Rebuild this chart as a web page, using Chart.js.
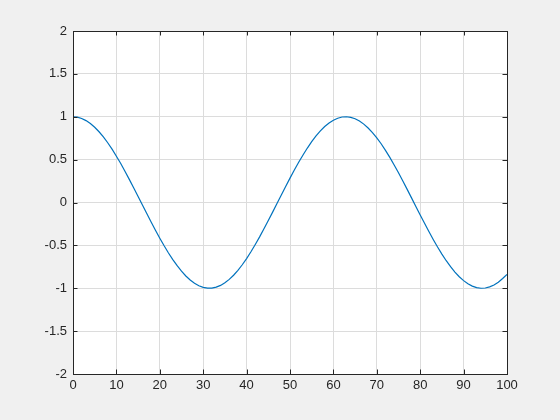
<!DOCTYPE html>
<html>
<head>
<meta charset="utf-8">
<script src="https://cdn.jsdelivr.net/npm/chart.js@4"></script>
<style>
  html, body { margin: 0; padding: 0; background: #f0f0f0; }
  #wrap { width: 560px; height: 420px; }
</style>
</head>
<body>
<div id="wrap"><canvas id="c" width="560" height="420"></canvas></div>
<script>
// values, x = 0..100 step 1
const xs = [];
for (let i = 0; i <= 100; i++) xs.push(i);
const ys = [
  1.000, 0.995, 0.980, 0.955, 0.921, 0.878, 0.825, 0.765, 0.697, 0.622,
  0.540, 0.454, 0.362, 0.267, 0.170, 0.071, -0.029, -0.129, -0.227, -0.323,
  -0.416, -0.505, -0.589, -0.666, -0.737, -0.801, -0.857, -0.904, -0.942, -0.971,
  -0.990, -0.999, -0.998, -0.987, -0.967, -0.936, -0.897, -0.848, -0.791, -0.726,
  -0.654, -0.575, -0.490, -0.401, -0.307, -0.211, -0.112, -0.012, 0.087, 0.187,
  0.284, 0.378, 0.469, 0.554, 0.635, 0.709, 0.776, 0.835, 0.886, 0.927,
  0.960, 0.983, 0.997, 1.000, 0.993, 0.977, 0.950, 0.914, 0.869, 0.816,
  0.754, 0.685, 0.608, 0.526, 0.438, 0.347, 0.251, 0.153, 0.054, -0.046,
  -0.146, -0.243, -0.339, -0.431, -0.519, -0.602, -0.679, -0.748, -0.811, -0.866,
  -0.911, -0.948, -0.975, -0.993, -1.000, -0.997, -0.984, -0.962, -0.929, -0.887,
  -0.839
];
const xTicks = [0, 10, 20, 30, 40, 50, 60, 70, 80, 90, 100];
const yTicks = [-2, -1.5, -1, -0.5, 0, 0.5, 1, 1.5, 2];

const axisColor = '#262626';

// white plot area, box on all four sides, ticks pointing inward
const boxPlugin = {
  id: 'box',
  beforeDraw(chart) {
    const a = chart.chartArea, ctx = chart.ctx;
    ctx.save();
    ctx.fillStyle = '#ffffff';
    ctx.fillRect(a.left, a.top, a.right - a.left, a.bottom - a.top);
    ctx.restore();
  },
  afterDraw(chart) {
    const a = chart.chartArea, ctx = chart.ctx;
    const xs_ = chart.scales.x, ys_ = chart.scales.y;
    const len = 4.5;
    ctx.save();
    ctx.strokeStyle = axisColor;
    ctx.lineWidth = 1;
    ctx.strokeRect(Math.round(a.left) + 0.5, Math.round(a.top) + 0.5,
      Math.round(a.right - a.left), Math.round(a.bottom - a.top));
    ctx.beginPath();
    xTicks.forEach(v => {
      const px = Math.round(xs_.getPixelForValue(v)) + 0.5;
      ctx.moveTo(px, a.bottom); ctx.lineTo(px, a.bottom - len);
      ctx.moveTo(px, a.top); ctx.lineTo(px, a.top + len);
    });
    yTicks.forEach(v => {
      const py = Math.round(ys_.getPixelForValue(v)) + 0.5;
      ctx.moveTo(a.left, py); ctx.lineTo(a.left + len, py);
      ctx.moveTo(a.right, py); ctx.lineTo(a.right - len, py);
    });
    ctx.stroke();
    ctx.restore();
  }
};

const ctx = document.getElementById('c').getContext('2d');
const chart = new Chart(ctx, {
  type: 'line',
  data: {
    datasets: [{
      data: xs.map((x, i) => ({ x: x, y: ys[i] })),
      borderColor: '#0072bd',
      borderWidth: 1.2,
      pointRadius: 0,
      tension: 0,
      fill: false
    }]
  },
  options: {
    responsive: false,
    animation: false,
    events: [],
    layout: { padding: { left: 0, top: 31, right: 53, bottom: 0 } },
    plugins: { legend: { display: false }, tooltip: { enabled: false } },
    scales: {
      x: {
        type: 'linear',
        min: 0, max: 100,
        afterBuildTicks: s => { s.ticks = xTicks.map(v => ({ value: v })); },
        afterFit: s => { s.height = 46; },
        ticks: {
          color: axisColor,
          font: { family: 'Liberation Sans, Arial, sans-serif', size: 13 },
          padding: 4,
          maxRotation: 0,
          callback: v => String(v)
        },
        grid: { color: '#dcdcdc', tickLength: 0, drawTicks: false },
        border: { display: false }
      },
      y: {
        type: 'linear',
        min: -2, max: 2,
        afterBuildTicks: s => { s.ticks = yTicks.map(v => ({ value: v })); },
        afterFit: s => { s.width = 73; },
        ticks: {
          color: axisColor,
          font: { family: 'Liberation Sans, Arial, sans-serif', size: 13 },
          padding: 6,
          callback: v => String(v)
        },
        grid: { color: '#dcdcdc', tickLength: 0, drawTicks: false },
        border: { display: false }
      }
    }
  },
  plugins: [boxPlugin]
});
</script>
</body>
</html>
